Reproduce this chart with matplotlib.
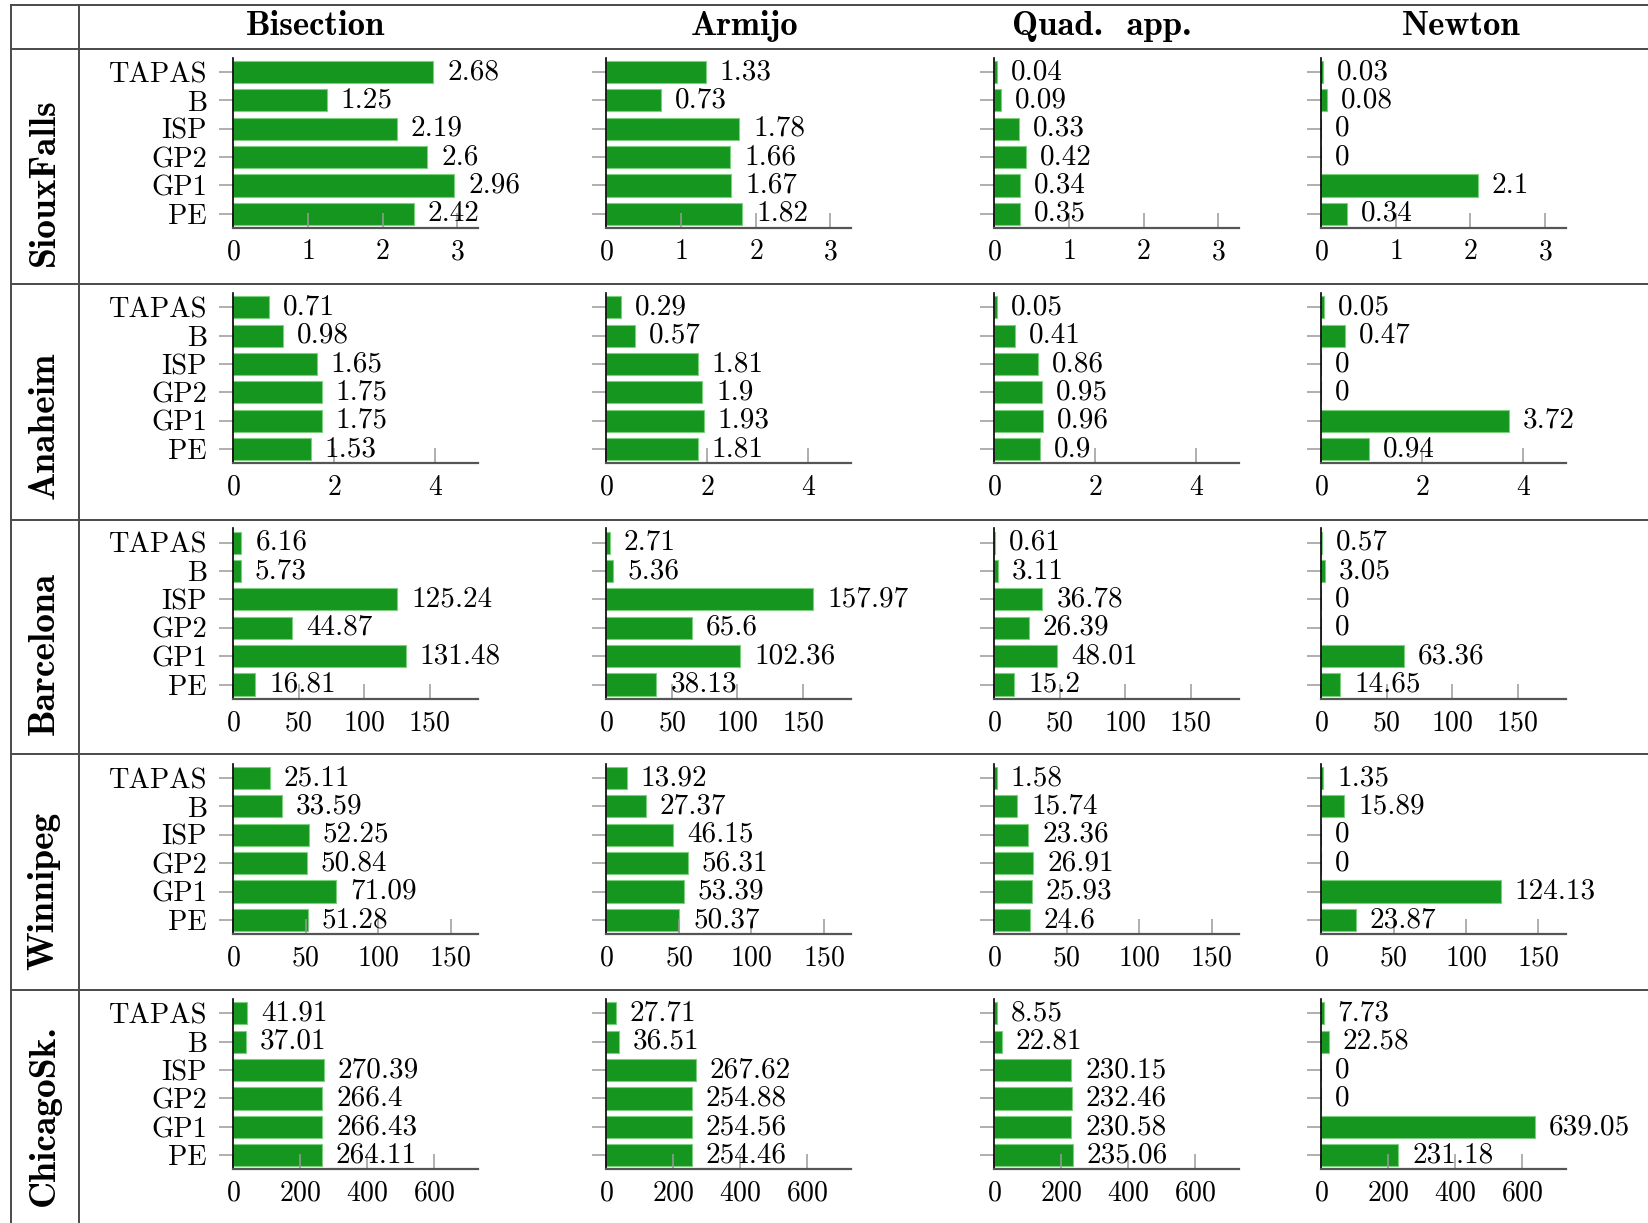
import matplotlib.pyplot as plt

plt.rcParams['font.family'] = 'cmr10'
plt.rcParams['axes.formatter.use_mathtext'] = True

methods = ['TAPAS', 'B', 'ISP', 'GP2', 'GP1', 'PE']
solvers = ['Bisection', 'Armijo', 'Quad.  app.', 'Newton']
networks = ['SiouxFalls', 'Anaheim', 'Barcelona', 'Winnipeg', 'ChicagoSk.']

# run times, one list per solver, ordered like methods
sioux_falls = [
    [2.68, 1.25, 2.19, 2.6, 2.96, 2.42],
    [1.33, 0.73, 1.78, 1.66, 1.67, 1.82],
    [0.04, 0.09, 0.33, 0.42, 0.34, 0.35],
    [0.03, 0.08, 0, 0, 2.1, 0.34],
]
anaheim = [
    [0.71, 0.98, 1.65, 1.75, 1.75, 1.53],
    [0.29, 0.57, 1.81, 1.9, 1.93, 1.81],
    [0.05, 0.41, 0.86, 0.95, 0.96, 0.9],
    [0.05, 0.47, 0, 0, 3.72, 0.94],
]
barcelona = [
    [6.16, 5.73, 125.24, 44.87, 131.48, 16.81],
    [2.71, 5.36, 157.97, 65.6, 102.36, 38.13],
    [0.61, 3.11, 36.78, 26.39, 48.01, 15.2],
    [0.57, 3.05, 0, 0, 63.36, 14.65],
]
winnipeg = [
    [25.11, 33.59, 52.25, 50.84, 71.09, 51.28],
    [13.92, 27.37, 46.15, 56.31, 53.39, 50.37],
    [1.58, 15.74, 23.36, 26.91, 25.93, 24.6],
    [1.35, 15.89, 0, 0, 124.13, 23.87],
]
chicago = [
    [41.91, 37.01, 270.39, 266.4, 266.43, 264.11],
    [27.71, 36.51, 267.62, 254.88, 254.56, 254.46],
    [8.55, 22.81, 230.15, 232.46, 230.58, 235.06],
    [7.73, 22.58, 0, 0, 639.05, 231.18],
]
row_ticks = [[0, 1, 2, 3], [0, 2, 4], [0, 50, 100, 150], [0, 50, 100, 150], [0, 200, 400, 600]]
row_xmax = [3.28, 4.85, 187, 169, 732]

all_data = [sioux_falls, anaheim, barcelona, winnipeg, chicago]

W, H = 1568, 1164  # layout measured in these units
fig = plt.figure(figsize=(16.48, 12.23), dpi=100)

bar_color = '#14961f'
grid_col = '#4a4a4a'
tick_col = '#9a9a9a'

ax_left = [222, 577, 946, 1257]
ax_w = 233
ax_top = [55, 279, 503, 727, 951]
ax_h = 162

for r in range(5):
    for c in range(4):
        ax = fig.add_axes([ax_left[c] / W, 1 - (ax_top[r] + ax_h) / H, ax_w / W, ax_h / H])
        vals = all_data[r][c]
        bars = ax.barh(range(len(methods)), vals, height=0.78, color=bar_color,
                       edgecolor='#7ccf7c', linewidth=0.8)
        ax.bar_label(bars, labels=[f"{v:g}" for v in vals], padding=10, fontsize=21)
        ax.set_ylim(len(methods) - 0.5, -0.5)
        ax.set_xlim(0, row_xmax[r])
        ax.set_xticks(row_ticks[r])
        ax.set_yticks(range(len(methods)))
        if c == 0:
            ax.set_yticklabels(methods, fontsize=20.5)
        else:
            ax.set_yticklabels([])
        ax.tick_params(axis='x', direction='in', length=11, width=1.1, color=tick_col,
                       labelsize=20, pad=8)
        ax.tick_params(axis='y', direction='out', length=10, width=1.1, color=tick_col,
                       pad=9)
        ax.spines['top'].set_visible(False)
        ax.spines['right'].set_visible(False)
        ax.spines['left'].set_color('black')
        ax.spines['left'].set_linewidth(1.2)
        ax.spines['bottom'].set_color('#555555')
        ax.spines['bottom'].set_linewidth(1.6)
        ax.patch.set_alpha(0)

# table frame
def hline(y):
    fig.add_artist(plt.Line2D([10 / W, 1], [1 - y / H, 1 - y / H], color=grid_col, lw=1.4))

def vline(x):
    fig.add_artist(plt.Line2D([x / W, x / W], [1 - 5 / H, 0], color=grid_col, lw=1.4))

for y in [5, 47, 270, 495, 718, 942]:
    hline(y)
for x in [10, 75]:
    vline(x)

col_centers = [300, 708, 1048, 1390]
for name, x in zip(solvers, col_centers):
    fig.text(x / W, 1 - 25 / H, name, family='cmb10', fontsize=25, ha='center', va='center')

row_centers = [173, 405, 622, 848, 1061]
for name, y in zip(networks, row_centers):
    fig.text(42 / W, 1 - y / H, name, family='cmb10', fontsize=27, ha='center', va='center',
             rotation=90)

fig.savefig('out.png', dpi=100)
